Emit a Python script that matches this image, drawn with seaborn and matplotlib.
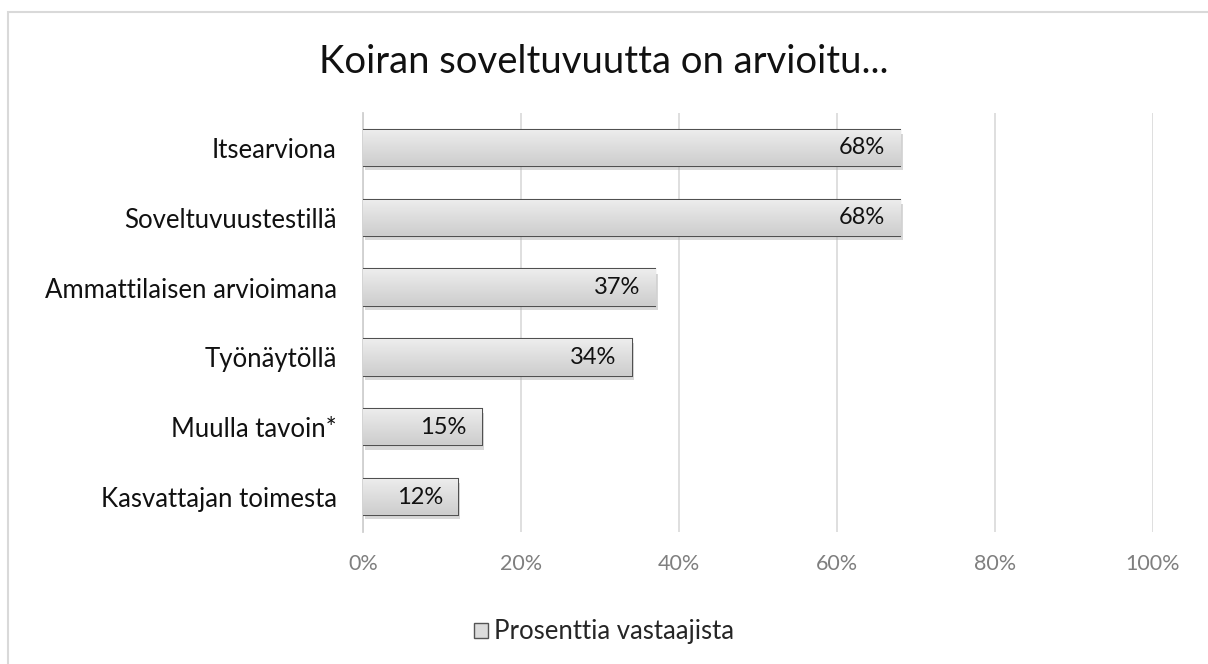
import numpy as np
import pandas as pd
import matplotlib
matplotlib.use("Agg")
import matplotlib.pyplot as plt
from matplotlib.patches import Rectangle
import seaborn as sns

OUTPUT = "out.png"

# data
categories = ["Itsearviona", "Soveltuvuustestillä", "Ammattilaisen arvioimana",
              "Työnäytöllä", "Muulla tavoin*", "Kasvattajan toimesta"]
values = [68, 68, 37, 34, 15, 12]
xticks = [0, 20, 40, 60, 80, 100]
title = "Koiran soveltuvuutta on arvioitu..."
series_name = "Prosenttia vastaajista"


def gradient_fill(ax, patch):
    """ vertical light-to-darker gray gradient clipped to a bar """
    x0, y0 = patch.get_x(), patch.get_y()
    w, h = patch.get_width(), patch.get_height()
    grad = np.linspace(0, 1, 64).reshape(-1, 1)
    # y axis is inverted, so first row = top of bar
    im = ax.imshow(grad, cmap=matplotlib.colors.LinearSegmentedColormap.from_list(
        "g", ["#ededed", "#cdcdcd"]), aspect="auto",
        extent=(x0, x0 + w, y0 + h, y0), zorder=patch.get_zorder() + 0.1,
        interpolation="bicubic")
    im.set_clip_path(patch)


def main():
    sns.set_theme(style="white")
    plt.rcParams["font.family"] = ["Lato", "DejaVu Sans"]

    df = pd.DataFrame({"cat": categories, "val": values})

    fig = plt.figure(figsize=(12.08, 6.64), dpi=100)
    ax = fig.add_axes([363 / 1208, (664 - 532) / 664, 790 / 1208, 419 / 664])

    sns.barplot(data=df, x="val", y="cat", orient="h", ax=ax, width=0.52,
                color="#dddddd", edgecolor="#505050", linewidth=1.5,
                saturation=1, zorder=3)

    ax.set_xlim(0, 100)
    ax.set_ylim(len(categories) - 0.5, -0.5)

    for p in list(ax.patches):
        # soft shadow under each bar
        sh = Rectangle((p.get_x() + 0.3, p.get_y() + 0.06), p.get_width(), p.get_height(),
                       facecolor="#aaaaaa", edgecolor="none", alpha=0.45, zorder=2)
        ax.add_patch(sh)
        gradient_fill(ax, p)
        p.set_zorder(3)

    # value labels inside the bar end
    for i, v in enumerate(values):
        ax.text(v - 1.9, i, f"{v}%", ha="right", va="center", fontsize=17,
                color="#111111", zorder=5)

    ax.set_xticks(xticks)
    ax.set_xticklabels([f"{t}%" for t in xticks], fontsize=15.5, color="#7f7f7f")
    ax.tick_params(axis="x", length=0, pad=16)
    ax.tick_params(axis="y", length=0, pad=19, labelsize=18.5, labelcolor="#111111")
    ax.set_xlabel("")
    ax.set_ylabel("")
    ax.grid(axis="x", color="#d9d9d9", linewidth=1.2, zorder=0)
    ax.set_axisbelow(True)
    for s in ["top", "right", "bottom"]:
        ax.spines[s].set_visible(False)
    ax.spines["left"].set_color("#d0d0d0")
    ax.spines["left"].set_linewidth(1.3)

    fig.text(0.5, (664 - 62) / 664, title, ha="center", va="center",
             fontsize=27.5, color="#111111")

    # legend
    handle = Rectangle((0, 0), 1, 1, facecolor="#dcdcdc", edgecolor="#555555", linewidth=1)
    fig.legend([handle], [series_name], loc="center", bbox_to_anchor=(0.5, (664 - 632) / 664),
               frameon=False, fontsize=18.5, handlelength=0.55, handleheight=0.55,
               handletextpad=0.2)

    # chart border
    fig.patches.append(Rectangle((8 / 1208, -0.05), 1.1, (664 - 12) / 664 + 0.05,
                                 transform=fig.transFigure, fill=False,
                                 edgecolor="#d9d9d9", linewidth=1.5, figure=fig))

    fig.savefig(OUTPUT, dpi=100)


if __name__ == "__main__":
    main()
